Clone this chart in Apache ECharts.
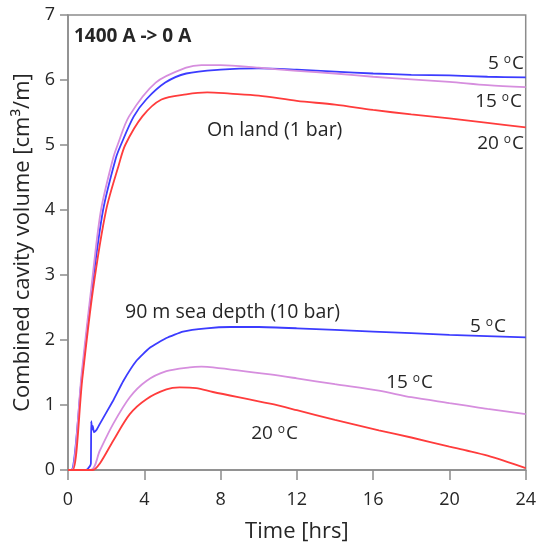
<!DOCTYPE html>
<html>
<head>
<meta charset="utf-8">
<script src="https://cdn.jsdelivr.net/npm/echarts@6/dist/echarts.min.js"></script>
<style>
  html, body { margin: 0; padding: 0; background: #fff; }
  #chart { width: 539px; height: 548px; }
</style>
</head>
<body>
<div id="chart"></div>
<script>
// Time axis ticks (hours) and volume axis ticks (cm^3/m)
const xTicks = [0, 4, 8, 12, 16, 20, 24];
const yTicks = [0, 1, 2, 3, 4, 5, 6, 7];

// On land (1 bar)
const land5T  = [0, 0.17, 0.72, 1.26, 1.84, 2.5, 2.77, 3.45, 4.1, 5.1, 6.2, 8, 10, 12, 14, 16, 18, 20, 22, 24];
const land5V  = [0, 0, 1.42, 2.8, 4.0, 4.79, 5.0, 5.44, 5.7, 5.96, 6.10, 6.16, 6.18, 6.16, 6.13, 6.10, 6.08, 6.07, 6.05, 6.04];
const land15T = [0, 0.2, 0.72, 1.26, 1.73, 2.36, 2.6, 3.2, 4.6, 6.2, 7, 8, 10, 12, 14, 16, 18, 20, 22, 24];
const land15V = [0, 0, 1.5, 2.9, 4.0, 4.79, 5.0, 5.44, 5.96, 6.19, 6.23, 6.23, 6.19, 6.14, 6.10, 6.05, 6.01, 5.97, 5.92, 5.89];
const land20T = [0, 0.25, 0.75, 1.3, 2.0, 2.67, 3.0, 3.9, 4.9, 6.2, 7.3, 8.5, 10, 12, 14, 16, 18, 20, 22, 24];
const land20V = [0, 0, 1.4, 2.75, 4.0, 4.7, 5.0, 5.44, 5.7, 5.78, 5.81, 5.79, 5.76, 5.68, 5.62, 5.54, 5.47, 5.41, 5.34, 5.27];

// 90 m sea depth (10 bar)
const sea5T  = [0, 0.95, 1.15, 1.2, 1.22, 1.26, 1.3, 1.36, 1.5, 1.67, 2.37, 2.9, 3.59, 4.29, 5.16, 6.03, 7.25, 8.5, 10, 12, 16, 20, 24];
const sea5V  = [0, 0, 0.06, 0.1, 0.75, 0.62, 0.68, 0.58, 0.62, 0.71, 1.07, 1.37, 1.68, 1.88, 2.03, 2.13, 2.18, 2.2, 2.2, 2.18, 2.13, 2.08, 2.04];
const sea15T = [0, 1.2, 1.67, 2.37, 3.24, 4.11, 5.16, 6.38, 7.0, 7.6, 10.6, 12, 14, 16.3, 18, 20, 20.9, 22, 24];
const sea15V = [0, 0, 0.3, 0.71, 1.12, 1.37, 1.52, 1.58, 1.59, 1.58, 1.47, 1.41, 1.32, 1.22, 1.12, 1.03, 0.99, 0.94, 0.86];
const sea20T = [0, 1.3, 1.67, 2.37, 3.24, 4.11, 5.16, 5.85, 6.72, 7.6, 10.6, 12, 14, 16.3, 18, 20, 20.9, 22, 24];
const sea20V = [0, 0, 0.1, 0.45, 0.86, 1.09, 1.24, 1.27, 1.26, 1.20, 1.02, 0.92, 0.77, 0.61, 0.50, 0.36, 0.30, 0.22, 0.03];

const BLUE = '#3c3cff', PURPLE = '#d68ede', RED = '#ff3c3c';
const FONT = '"Open Sans"';
const TXT = '#262626';
const AXIS = '#8c8c8c';

function pairs(t, v) { return t.map((x, i) => [x, v[i]]); }
function line(name, t, v, color, smooth) {
  return {
    name, type: 'line', data: pairs(t, v), showSymbol: false,
    smooth: smooth,
    lineStyle: { color, width: 1.8 }, z: 3
  };
}

function label(text, x, y, font) {
  return {
    type: 'text', x, y,
    style: { text, fill: TXT, font: font || ('19.5px ' + FONT), verticalAlign: 'middle', align: 'left' }
  };
}
function degLabel(num, xRight, y) {
  return {
    type: 'text', x: xRight, y,
    style: {
      text: num + ' {o|o}C', fill: TXT, font: '19px ' + FONT,
      align: 'right', verticalAlign: 'middle',
      rich: { o: { fontSize: 12, fontFamily: FONT, fill: TXT, padding: [0, 1, 8, 0] } }
    }
  };
}

const chart = echarts.init(document.getElementById('chart'), null, { renderer: 'canvas' });

chart.setOption({
  animation: false,
  grid: { left: 68, right: 12, top: 15, bottom: 75, show: true, borderColor: AXIS, borderWidth: 1.5 },
  xAxis: {
    type: 'value', min: xTicks[0], max: xTicks[xTicks.length - 1], interval: 4,
    name: 'Time [hrs]', nameLocation: 'middle', nameGap: 51,
    nameTextStyle: { fontFamily: FONT, fontSize: 22, color: TXT },
    axisLine: { show: true, lineStyle: { color: AXIS, width: 1.5 } },
    axisTick: { show: true, inside: false, length: 10, lineStyle: { color: AXIS, width: 1.5 } },
    axisLabel: { fontFamily: FONT, fontSize: 18, color: TXT, margin: 21 },
    splitLine: { show: false }
  },
  yAxis: {
    type: 'value', min: yTicks[0], max: yTicks[yTicks.length - 1], interval: 1,
    name: 'Combined cavity volume [cm³/m]', nameLocation: 'middle', nameGap: 26,
    nameTextStyle: { fontFamily: FONT, fontSize: 22, color: TXT },
    axisLine: { show: true, lineStyle: { color: AXIS, width: 1.5 } },
    axisTick: { show: true, inside: false, length: 8, lineStyle: { color: AXIS, width: 1.5 } },
    axisLabel: { fontFamily: FONT, fontSize: 18, color: TXT, margin: 13 },
    splitLine: { show: false }
  },
  series: [
    line('Land 5 °C', land5T, land5V, BLUE, 0.3),
    line('Land 15 °C', land15T, land15V, PURPLE, 0.3),
    line('Land 20 °C', land20T, land20V, RED, 0.3),
    line('Sea 5 °C', sea5T, sea5V, BLUE, 0.15),
    line('Sea 15 °C', sea15T, sea15V, PURPLE, 0.3),
    line('Sea 20 °C', sea20T, sea20V, RED, 0.3)
  ],
  graphic: [
    label('1400 A -> 0 A', 74, 37, 'bold 19px ' + FONT),
    label('On land (1 bar)', 207, 130),
    label('90 m sea depth (10 bar)', 125, 312),
    degLabel('5', 524, 64),
    degLabel('15', 522, 102),
    degLabel('20', 524, 144),
    degLabel('5', 506, 327),
    degLabel('15', 433, 383),
    degLabel('20', 298, 434)
  ]
});
</script>
</body>
</html>
